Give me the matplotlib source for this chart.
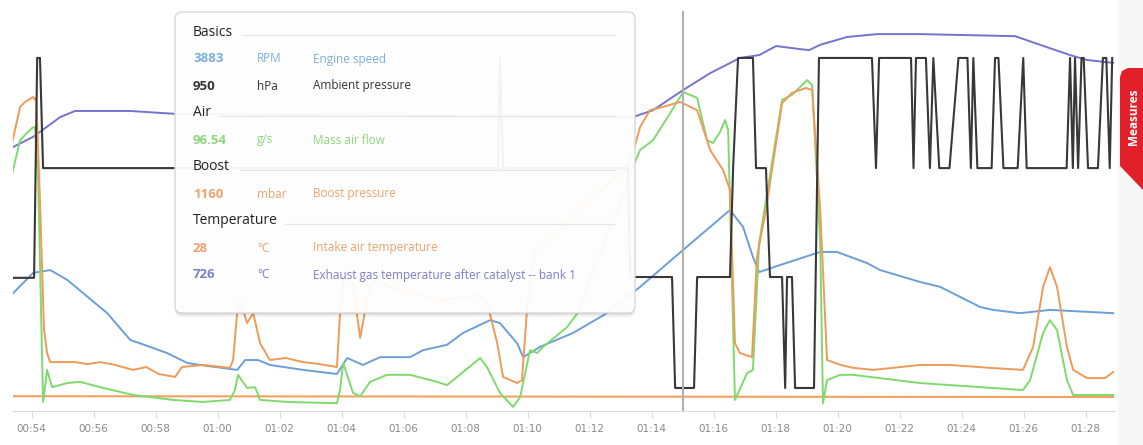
import matplotlib
matplotlib.use("Agg")
import matplotlib.pyplot as plt
from matplotlib.patches import FancyBboxPatch, Polygon, Rectangle

plt.rcParams['font.family'] = ['Open Sans', 'DejaVu Sans']

# --- data: time in seconds, value in % of each channel's display range ---
speed_t = [53.34, 54.05, 54.60, 55.15, 55.66, 56.44, 57.18, 57.82, 58.37, 59.02, 59.44,
           60.63, 60.89, 61.31, 61.69, 62.76, 63.85, 64.18, 64.69, 65.24, 66.21, 66.63,
           67.40, 67.92, 68.79, 69.11, 69.66, 69.86, 70.40, 71.47, 72.56, 73.63, 75.02,
           76.53, 76.95, 77.27, 77.47, 78.34, 79.44, 79.98, 80.95, 81.37, 82.66, 83.31,
           84.60, 85.02, 85.89, 86.85, 88.89]
speed_v = [28.2, 33.6, 34.3, 31.9, 28.7, 23.8, 17.3, 15.6, 14.1, 11.7, 11.2,
           10.0, 12.4, 12.4, 11.2, 10.0, 9.0, 12.9, 11.2, 13.1, 13.1, 14.8,
           16.1, 19.0, 22.1, 21.4, 16.5, 13.1, 15.6, 19.0, 23.8, 30.2, 39.2,
           48.9, 44.8, 37.5, 33.8, 36.0, 38.7, 38.7, 36.0, 34.3, 31.4, 30.2,
           25.3, 24.6, 23.8, 24.6, 23.8]

exhaust_t = [53.34, 54.05, 54.92, 55.40, 57.18, 58.63, 65.89, 73.40, 74.05, 75.02, 75.89,
             76.85, 77.47, 78.02, 78.53, 79.08, 79.44, 80.31, 81.27, 82.66, 85.73, 86.53,
             87.50, 88.05, 88.89]
exhaust_v = [64.0, 66.7, 71.5, 73.0, 73.0, 72.3, 71.8, 71.5, 73.2, 78.1, 82.2,
             85.9, 86.6, 88.8, 88.3, 87.8, 89.1, 91.0, 91.7, 91.7, 91.2, 89.1,
             86.6, 85.4, 84.7]

ambient_t = [53.34, 54.08, 54.18, 54.27, 54.37, 69.05, 69.11, 69.21, 73.24, 73.31, 74.66,
             74.76, 75.37, 75.47, 76.53, 76.63, 76.79, 77.27, 77.37, 77.69, 77.82, 78.21,
             78.31, 78.37, 78.53, 78.63, 79.24, 79.40, 81.11, 81.24, 81.34, 82.37, 82.45,
             82.53, 82.85, 82.98, 83.09, 83.28, 83.61, 83.90, 84.19, 84.30, 84.38, 84.51,
             84.97, 85.08, 85.19, 85.35, 85.81, 85.99, 86.10, 87.39, 87.50, 87.59, 87.66,
             87.76, 87.87, 87.94, 88.08, 88.40, 88.56, 88.67, 88.78, 88.86]
ambient_v = [32.4, 32.4, 85.9, 85.9, 59.1, 59.1, 85.9, 59.1, 59.1, 32.6, 32.6,
             5.6, 5.6, 32.6, 32.6, 59.1, 85.9, 85.9, 59.1, 59.1, 32.6, 32.6,
             5.6, 32.6, 32.6, 5.6, 5.6, 85.9, 85.9, 59.1, 85.9, 85.9, 59.1,
             85.9, 85.9, 59.1, 85.9, 59.1, 59.1, 85.9, 85.9, 59.1, 85.9, 59.1,
             59.1, 85.9, 85.9, 59.1, 59.1, 85.9, 59.1, 59.1, 85.9, 59.1, 85.9,
             59.1, 85.9, 85.9, 59.1, 59.1, 85.9, 85.9, 59.1, 85.9]

airflow_t = [53.34, 53.63, 53.79, 54.02, 54.11, 54.21, 54.37, 54.50, 54.66, 55.15, 55.56,
             56.21, 57.27, 58.56, 59.53, 60.40, 60.56, 60.66, 60.95, 61.21, 61.37, 62.24,
             63.85, 63.95, 64.05, 64.37, 64.60, 64.92, 65.47, 66.21, 67.08, 67.40, 67.73,
             68.47, 68.69, 69.11, 69.53, 69.76, 70.08, 70.31, 70.50, 71.27, 71.69, 72.24,
             72.89, 73.40, 73.63, 74.05, 74.60, 75.02, 75.47, 75.79, 75.98, 76.21, 76.37,
             76.47, 76.69, 77.08, 77.27, 77.47, 78.21, 78.53, 79.02, 79.18, 79.44, 79.53,
             79.66, 80.08, 80.50, 82.66, 85.98, 86.21, 86.63, 86.85, 87.08, 87.40, 87.60,
             88.89]
airflow_v = [56.7, 65.9, 67.2, 68.9, 69.1, 56.2, 2.2, 10.0, 5.8, 6.8, 7.1,
             5.8, 3.9, 2.7, 2.2, 2.7, 5.1, 8.8, 5.6, 5.8, 2.7, 2.2,
             1.9, 5.1, 11.7, 4.4, 3.6, 7.1, 8.8, 8.8, 7.1, 6.3, 8.3,
             12.9, 10.7, 4.4, 1.0, 3.4, 14.8, 14.1, 15.6, 20.4, 24.6, 36.7,
             48.9, 59.4, 63.5, 65.9, 72.5, 77.6, 76.2, 65.9, 65.2, 67.9, 70.8,
             68.4, 2.7, 9.2, 10.0, 40.9, 75.7, 76.9, 80.5, 79.3, 40.9, 1.9,
             7.5, 8.8, 8.8, 6.8, 5.1, 7.5, 19.0, 22.1, 19.7, 7.5, 3.9,
             3.9]

boost_t = [53.34, 53.63, 53.79, 54.05, 54.11, 54.15, 54.27, 54.40, 54.50, 54.60, 55.40,
           55.80, 56.21, 56.70, 57.27, 57.70, 58.10, 58.63, 58.85, 59.53, 60.40, 60.50,
           60.63, 60.73, 60.95, 61.15, 61.37, 61.69, 62.20, 62.76, 63.30, 63.85, 63.95,
           64.05, 64.18, 64.34, 64.60, 64.82, 64.98, 65.89, 67.18, 67.82, 68.47, 68.73,
           69.02, 69.21, 69.66, 69.82, 69.98, 70.24, 71.05, 72.34, 73.15, 73.40, 73.63,
           73.95, 74.37, 74.92, 75.47, 75.89, 76.31, 76.53, 76.69, 76.85, 77.24, 77.40,
           77.69, 78.21, 78.53, 78.98, 79.18, 79.44, 79.66, 80.10, 80.50, 81.15, 82.66,
           83.63, 84.92, 85.98, 86.31, 86.63, 86.85, 87.08, 87.40, 87.60, 88.05, 88.63,
           88.89]
boost_v = [64.2, 74.0, 75.2, 76.4, 75.7, 76.2, 51.3, 19.7, 14.1, 11.9, 11.9,
           11.4, 11.9, 11.2, 10.0, 10.7, 9.0, 8.3, 10.7, 11.2, 10.5, 12.4,
           23.8, 27.0, 21.4, 23.8, 16.5, 12.4, 12.9, 11.9, 11.4, 10.7, 23.8,
           31.1, 34.3, 31.9, 17.8, 27.0, 31.9, 29.4, 27.0, 27.5, 28.2, 25.3,
           16.5, 8.3, 6.8, 7.5, 24.6, 39.2, 44.0, 53.8, 58.6, 62.8, 69.1,
           73.2, 74.0, 75.2, 73.2, 63.5, 58.6, 53.8, 16.5, 14.1, 13.1, 37.5,
           48.9, 74.9, 77.4, 78.6, 78.1, 48.9, 12.4, 11.2, 10.5, 10.0, 11.2,
           11.2, 10.5, 10.0, 15.6, 30.2, 35.0, 30.2, 15.6, 10.0, 8.0, 8.0,
           9.5]

intake_t = [53.34, 88.89]
intake_v = [3.6, 3.4]

tick_secs = list(range(54, 90, 2))
cursor_t = 75.02

# tooltip rows: (value, unit, name, colour)
groups = [
    ("Basics", [("3883", "RPM", "Engine speed", "#7daee0"),
                ("950", "hPa", "Ambient pressure", "#333333")]),
    ("Air", [("96.54", "g/s", "Mass air flow", "#8fd67e")]),
    ("Boost", [("1160", "mbar", "Boost pressure", "#eca36f")]),
    ("Temperature", [("28", "°C", "Intake air temperature", "#eca36f"),
                     ("726", "°C", "Exhaust gas temperature after catalyst -- bank 1", "#7d7dcc")]),
]

W, H = 1143, 445
fig = plt.figure(figsize=(W / 100, H / 100), dpi=100)
fig.patch.set_facecolor("white")

ax = fig.add_axes([13 / W, (H - 411) / H, (1115 - 13) / W, 411 / H])
ax.set_xlim(53.40, 88.95)
ax.set_ylim(0, 100)

ax.plot(intake_t, intake_v, color="#f2a25e", lw=1.5, zorder=2)
ax.plot(speed_t, speed_v, color="#6c9fd8", lw=1.4, zorder=3)
ax.plot(exhaust_t, exhaust_v, color="#7473cf", lw=1.4, zorder=3)
ax.plot(airflow_t, airflow_v, color="#7fda6e", lw=1.4, zorder=4)
ax.plot(boost_t, boost_v, color="#ee9a58", lw=1.4, zorder=5)
ax.plot(ambient_t, ambient_v, color="#383838", lw=1.5, zorder=6)
ax.axvline(cursor_t, ymin=0, ymax=(411 - 12) / 411, color="#b0b0b0", lw=1.5, zorder=7)

for s in ["top", "left", "right"]:
    ax.spines[s].set_visible(False)
ax.spines["bottom"].set_color("#d6dcea")
ax.set_yticks([])
ax.set_xticks(tick_secs)
ax.set_xticklabels(["%02d:%02d" % divmod(s, 60) for s in tick_secs],
                   fontsize=7.5, color="#8a8a8a", family=["Liberation Sans Narrow", "DejaVu Sans"])
ax.tick_params(axis="x", length=5, color="#d6dcea", pad=4)

# overlay in pixel coordinates for tooltip and side tab
ov = fig.add_axes([0, 0, 1, 1], zorder=10)
ov.set_xlim(0, W)
ov.set_ylim(H, 0)
ov.axis("off")
ov.patch.set_alpha(0)

ov.add_patch(Rectangle((1118, 0), W - 1118, H, color="#f7f7f7", lw=0))
ov.add_patch(Polygon([(1143, 68), (1128, 68), (1122, 71), (1120, 77), (1120, 166), (1143, 190)],
                     closed=True, color="#e2202a", lw=0))
ov.text(1134, 117, "Measures", rotation=90, color="white", fontsize=8.5, fontweight="bold",
        ha="center", va="center")

for off, a in [(4, 0.05), (2, 0.07)]:
    ov.add_patch(FancyBboxPatch((175, 12 + off), 460, 301, boxstyle="round,pad=0,rounding_size=7",
                                facecolor="#000000", alpha=a, lw=0))
ov.add_patch(FancyBboxPatch((175, 12), 460, 301, boxstyle="round,pad=0,rounding_size=7",
                            facecolor="white", edgecolor="#d6d6d6", lw=1, alpha=0.95))

title_w = {"Basics": 50, "Air": 27, "Boost": 47, "Temperature": 92}
y = 32
for title, rows in groups:
    ov.text(193, y, title, fontsize=10, color="#222222", va="center")
    ov.plot([193 + title_w[title], 615], [y + 3, y + 3], color="#e6e6e6", lw=0.9)
    y += 27
    for val, unit, name, col in rows:
        ov.text(193, y, val, fontsize=9.5, color=col, fontweight="bold", va="center")
        ov.text(257, y, unit, fontsize=8.5, color=col, va="center")
        ov.text(313, y, name, fontsize=8.5, color=col, va="center")
        y += 27

fig.savefig("out.png", dpi=100, facecolor="white")
